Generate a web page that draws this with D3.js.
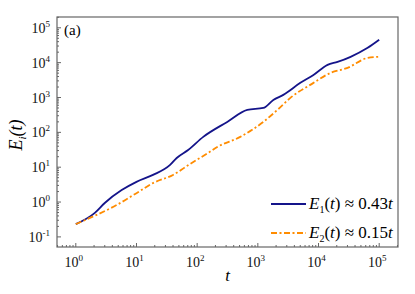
<!DOCTYPE html>
<html lang="en">
<head>
<meta charset="UTF-8">
<title>E_i(t)</title>
<script src="https://d3js.org/d3.v7.min.js"></script>
<style>
    html, body { margin: 0; padding: 0; background: white; }
    text { font-family: "Liberation Serif", "Times New Roman", serif; }
</style>
</head>
<body>
<div id="chart"></div>
<script>
    // values
    const t1 = [1, 2.06, 3.0, 5.7, 10, 18.7, 35.8, 46, 71, 126, 313, 670, 1230, 1800, 2630, 5020, 8260, 14100, 20600, 33800, 64600, 100000];
    const e1 = [0.233, 0.49, 0.94, 2.2, 3.8, 6.0, 11.6, 18.4, 31, 74, 199, 440, 500, 850, 1190, 2630, 4450, 8650, 10500, 14700, 26600, 45200];
    const t2 = [1, 1.9, 4.7, 10, 18.7, 40, 77, 151, 214, 513, 1230, 2100, 3440, 8260, 15800, 30100, 64600, 98000];
    const e2 = [0.233, 0.38, 0.82, 1.8, 3.5, 6.0, 12.5, 25.6, 38, 74, 199, 440, 975, 2630, 5100, 7100, 13700, 14700];
    const xTickExp = [0, 1, 2, 3, 4, 5];
    const yTickExp = [-1, 0, 1, 2, 3, 4, 5];
    const legendLabels = [["1", "0.43"], ["2", "0.15"]];

    const w = 415, h = 294;
    const mLeft = 57, mRight = 398, mTop = 17, mBottom = 247;

    const svg = d3.select("#chart").append("svg")
        .attr("width", w)
        .attr("height", h);

    const x = d3.scaleLog().domain([Math.pow(10, -0.31), Math.pow(10, 5.31)]).range([mLeft, mRight]);
    const y = d3.scaleLog().domain([Math.pow(10, -1.29), Math.pow(10, 5.31)]).range([mBottom, mTop]);

    // minor ticks
    const minorX = [], minorY = [];
    for (let e = -1; e <= 5; e++) {
        for (let k = 2; k <= 9; k++) {
            const v = k * Math.pow(10, e);
            if (v > x.domain()[0] && v < x.domain()[1]) minorX.push(v);
            if (v > y.domain()[0] && v < y.domain()[1]) minorY.push(v);
        }
    }

    const axisColor = "#666";

    svg.selectAll("line.xmaj").data(xTickExp).enter().append("line")
        .attr("x1", d => x(Math.pow(10, d))).attr("x2", d => x(Math.pow(10, d)))
        .attr("y1", mBottom).attr("y2", mBottom - 4)
        .attr("stroke", axisColor).attr("stroke-width", 1);
    svg.selectAll("line.xmin").data(minorX).enter().append("line")
        .attr("x1", d => x(d)).attr("x2", d => x(d))
        .attr("y1", mBottom).attr("y2", mBottom - 2)
        .attr("stroke", axisColor).attr("stroke-width", 1);
    svg.selectAll("line.ymaj").data(yTickExp).enter().append("line")
        .attr("y1", d => y(Math.pow(10, d))).attr("y2", d => y(Math.pow(10, d)))
        .attr("x1", mLeft).attr("x2", mLeft + 4)
        .attr("stroke", axisColor).attr("stroke-width", 1);
    svg.selectAll("line.ymin").data(minorY).enter().append("line")
        .attr("y1", d => y(d)).attr("y2", d => y(d))
        .attr("x1", mLeft).attr("x2", mLeft + 2)
        .attr("stroke", axisColor).attr("stroke-width", 1);

    // frame
    svg.append("rect")
        .attr("x", mLeft).attr("y", mTop)
        .attr("width", mRight - mLeft).attr("height", mBottom - mTop)
        .attr("fill", "none").attr("stroke", axisColor).attr("stroke-width", 1.2);

    // tick labels
    const xl = svg.selectAll("text.xl").data(xTickExp).enter().append("text")
        .attr("x", d => x(Math.pow(10, d)) - 2)
        .attr("y", mBottom + 20)
        .attr("text-anchor", "middle")
        .style("font-size", "14px")
        .attr("fill", "#111");
    xl.append("tspan").text("10");
    xl.append("tspan").attr("dy", -6).style("font-size", "9px").text(d => d);

    const yl = svg.selectAll("text.yl").data(yTickExp).enter().append("text")
        .attr("x", mLeft - 7)
        .attr("y", d => y(Math.pow(10, d)) + 5)
        .attr("text-anchor", "end")
        .style("font-size", "14px")
        .attr("fill", "#111");
    yl.append("tspan").text("10");
    yl.append("tspan").attr("dy", -6).style("font-size", "9px").text(d => d);

    // axis titles
    svg.append("text")
        .attr("x", (mLeft + mRight) / 2)
        .attr("y", 281)
        .attr("text-anchor", "middle")
        .style("font-size", "17px")
        .style("font-style", "italic")
        .text("t");

    const yt = svg.append("text")
        .attr("transform", "translate(22," + 135 + ") rotate(-90)")
        .attr("text-anchor", "middle")
        .style("font-size", "18px")
        .style("font-style", "italic");
    yt.append("tspan").text("E");
    yt.append("tspan").style("font-size", "11px").attr("dy", 4).text("i");
    yt.append("tspan").attr("dy", -4).text("(t)");

    svg.append("text")
        .attr("x", 64).attr("y", 35)
        .style("font-size", "15px")
        .text("(a)");

    // curves
    const line = d3.line()
        .x(d => x(d[0]))
        .y(d => y(d[1]))
        .curve(d3.curveMonotoneX);

    const series = [
        { pts: d3.zip(t1, e1), color: "#14148a", dash: null },
        { pts: d3.zip(t2, e2), color: "#ff8c00", dash: "6,2.5,2,2.5" }
    ];

    series.forEach(s => {
        svg.append("path")
            .attr("d", line(s.pts))
            .attr("fill", "none")
            .attr("stroke", s.color)
            .attr("stroke-width", 1.8)
            .attr("stroke-dasharray", s.dash);
    });

    // legend
    series.forEach((s, i) => {
        const ly = 204 + i * 29;
        svg.append("line")
            .attr("x1", 271).attr("x2", 306)
            .attr("y1", ly).attr("y2", ly)
            .attr("stroke", s.color)
            .attr("stroke-width", 1.8)
            .attr("stroke-dasharray", s.dash);
        const tx = svg.append("text")
            .attr("x", 309).attr("y", ly + 5)
            .style("font-size", "17px");
        tx.append("tspan").style("font-style", "italic").text("E");
        tx.append("tspan").style("font-size", "10px").attr("dy", 4).text(legendLabels[i][0]);
        tx.append("tspan").attr("dy", -4).text("(");
        tx.append("tspan").style("font-style", "italic").text("t");
        tx.append("tspan").text(") \u2248 " + legendLabels[i][1]);
        tx.append("tspan").style("font-style", "italic").text("t");
    });
</script>
</body>
</html>
